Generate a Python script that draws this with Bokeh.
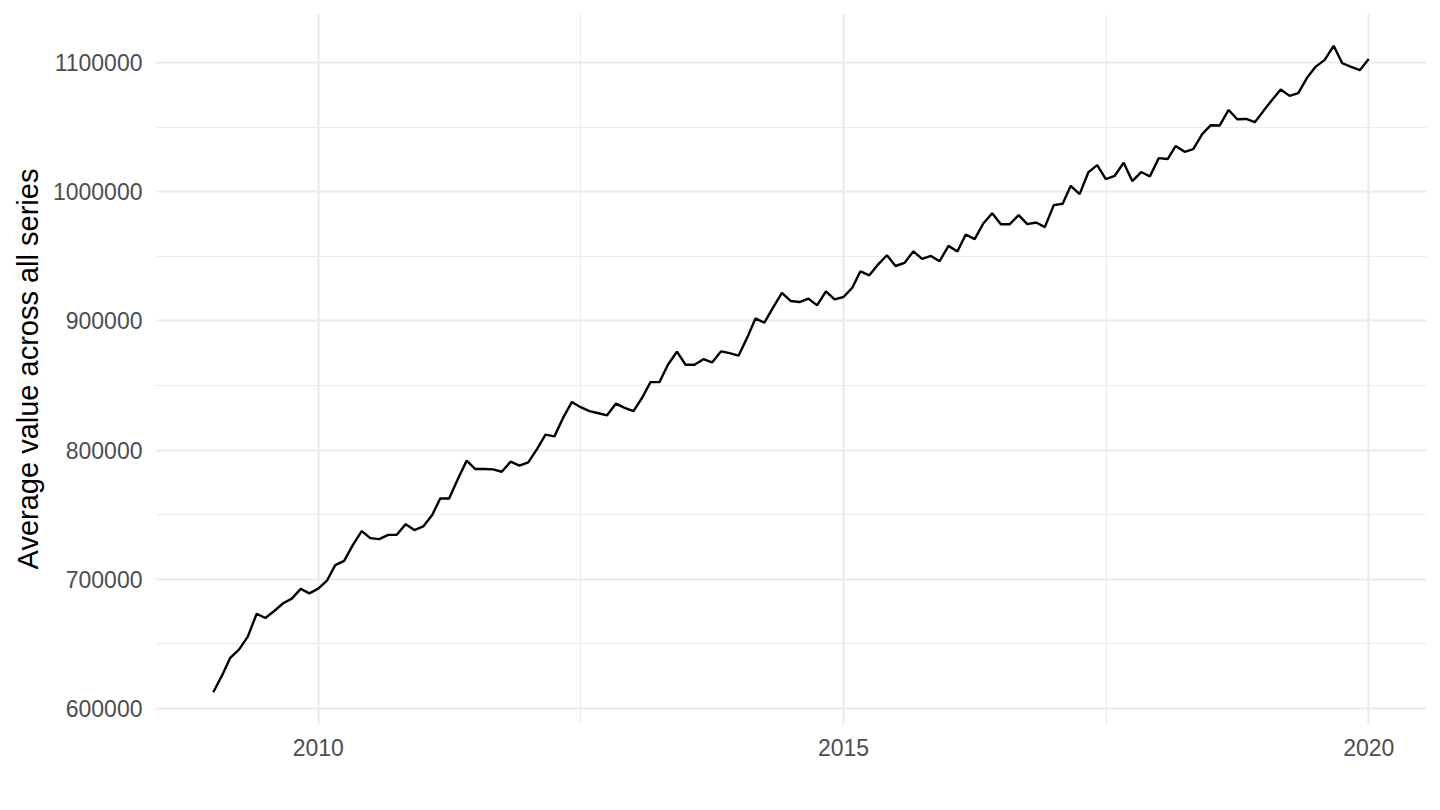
import pandas as pd
from bokeh.plotting import figure
from bokeh.models import ColumnDataSource, FixedTicker, DatetimeTickFormatter, NumeralTickFormatter, Range1d
from bokeh.embed import file_html
from bokeh.resources import INLINE

# monthly averages, Jan 2009 .. Jan 2020
start_month = "2009-01-01"
end_month = "2020-01-01"
avg_value = [
    612400, 625600, 639000, 645600, 655400, 673200, 669900, 675300, 681300, 684900, 692400, 689000,
    692600, 699100, 710800, 714100, 726300, 737200, 731800, 731000, 734300, 734300, 742600, 738000,
    740800, 749600, 762500, 762500, 777300, 791800, 785300, 785300, 785000, 783200, 791000, 787900,
    790500, 800900, 812000, 810600, 824900, 837300, 833200, 830100, 828500, 826900, 836000, 832700,
    830100, 840900, 852600, 852600, 866300, 876200, 866100, 866100, 870400, 867900, 876400, 875100,
    873100, 887500, 902000, 898700, 910300, 921700, 915500, 914700, 917300, 912100, 923000, 916800,
    918600, 925900, 938500, 935400, 943700, 950900, 942600, 945000, 954000, 948100, 950400, 946300,
    958200, 953800, 967000, 963400, 975500, 983500, 975000, 975000, 982000, 975000, 976300, 972700,
    989800, 990800, 1004700, 998300, 1015100, 1020800, 1009900, 1012500, 1022600, 1008400, 1015400, 1012000,
    1026200, 1025500, 1035600, 1031100, 1033100, 1044800, 1051700, 1051500, 1063500, 1056300, 1056500, 1054000,
    1063000, 1071800, 1079300, 1074400, 1076500, 1088600, 1097100, 1102300, 1113200, 1099700, 1096900, 1094300,
    1102900,
]

x_major = ["2010-01-01", "2015-01-01", "2020-01-01"]
x_minor = ["2012-07-02", "2017-07-02"]
y_major = [600000, 700000, 800000, 900000, 1000000, 1100000]
y_minor = [650000, 750000, 850000, 950000, 1050000]

df = pd.DataFrame({"Time": pd.date_range(start_month, end_month, freq="MS"), "value": avg_value})
source = ColumnDataSource(df)


def ms(d):
    return pd.Timestamp(d).value / 1e6


# ggplot-style 5% expansion
t0, t1 = ms(df.Time.min()), ms(df.Time.max())
v0, v1 = df.value.min(), df.value.max()
dx, dy = (t1 - t0) * 0.05, (v1 - v0) * 0.05

p = figure(x_axis_type="datetime", frame_width=1271, frame_height=711,
           output_backend="svg", toolbar_location=None,
           x_range=Range1d(t0 - dx, t1 + dx), y_range=Range1d(v0 - dy, v1 + dy),
           min_border_left=155, min_border_right=6, min_border_top=13, min_border_bottom=70)
p.outline_line_color = None
p.background_fill_color = "white"
p.border_fill_color = "white"

p.line("Time", "value", source=source, color="black", line_width=2.4)

p.xaxis.ticker = FixedTicker(ticks=[ms(d) for d in x_major], minor_ticks=[ms(d) for d in x_minor])
p.xaxis.formatter = DatetimeTickFormatter(years="%Y", months="%Y", days="%Y", hours="%Y",
                                          minutes="%Y", seconds="%Y", milliseconds="%Y")
p.yaxis.ticker = FixedTicker(ticks=y_major, minor_ticks=y_minor)
p.yaxis.formatter = NumeralTickFormatter(format="0")

for ax in (p.xaxis, p.yaxis):
    ax.axis_line_color = None
    ax.major_tick_line_color = None
    ax.minor_tick_line_color = None
    ax.major_tick_out = 0
    ax.major_tick_in = 0
    ax.minor_tick_out = 0
    ax.minor_tick_in = 0
    ax.major_label_text_font = "Liberation Sans"
    ax.major_label_text_font_size = "23px"
    ax.major_label_text_color = "#4D4D4D"

p.xaxis.major_label_standoff = 14
p.yaxis.major_label_standoff = 13

p.yaxis.axis_label = "Average value across all series"
p.yaxis.axis_label_text_font = "Liberation Sans"
p.yaxis.axis_label_text_font_size = "29px"
p.yaxis.axis_label_text_font_style = "normal"
p.yaxis.axis_label_text_color = "black"
p.yaxis.axis_label_standoff = 6

for g in (p.xgrid, p.ygrid):
    g.grid_line_color = "#EBEBEB"
    g.grid_line_width = 2.2
    g.minor_grid_line_color = "#EBEBEB"
    g.minor_grid_line_width = 1.1

open("out.html", "w").write(file_html(p, INLINE))
